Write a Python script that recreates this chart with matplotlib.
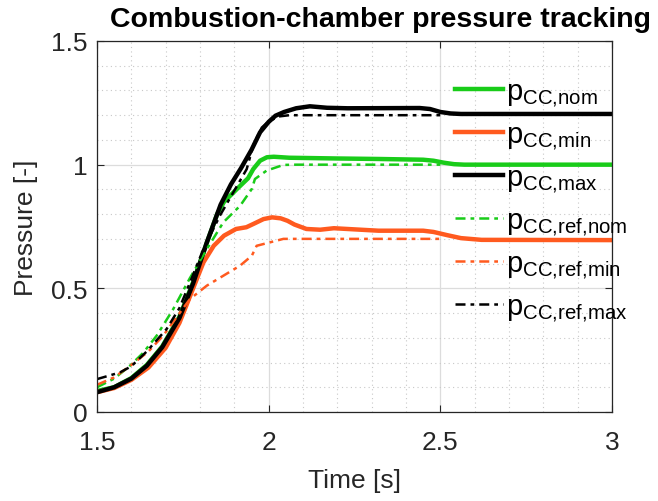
import numpy as np
import matplotlib
matplotlib.use("Agg")
import matplotlib.pyplot as plt
from matplotlib.ticker import MultipleLocator

plt.rcParams['font.family'] = ['Liberation Sans', 'DejaVu Sans']
plt.rcParams['mathtext.fontset'] = 'custom'
plt.rcParams['mathtext.rm'] = 'Liberation Sans'
plt.rcParams['mathtext.it'] = 'Liberation Sans'
plt.rcParams['mathtext.default'] = 'regular'

# measured pressures (solid)
t_max = [1.50, 1.55, 1.60, 1.645, 1.69, 1.74, 1.78, 1.82, 1.86, 1.89, 1.92, 1.95, 1.975, 2.00,
         2.02, 2.045, 2.08, 2.12, 2.17, 2.23, 2.44, 2.47, 2.50, 2.53, 2.56, 3.00]
p_max = [0.08, 0.10, 0.135, 0.187, 0.262, 0.38, 0.52, 0.686, 0.838, 0.92, 0.987, 1.06, 1.131, 1.173,
         1.198, 1.213, 1.228, 1.236, 1.230, 1.228, 1.229, 1.225, 1.213, 1.207, 1.205, 1.205]

t_nom = [1.50, 1.55, 1.60, 1.645, 1.69, 1.74, 1.78, 1.82, 1.85, 1.87, 1.91, 1.94, 1.955, 1.975,
         1.995, 2.015, 2.06, 2.20, 2.32, 2.45, 2.48, 2.51, 2.54, 2.57, 3.00]
p_nom = [0.085, 0.10, 0.137, 0.19, 0.265, 0.385, 0.525, 0.685, 0.80, 0.85, 0.905, 0.945, 0.982, 1.016,
         1.030, 1.032, 1.028, 1.025, 1.023, 1.020, 1.016, 1.008, 1.002, 1.0, 1.0]

t_min = [1.50, 1.55, 1.60, 1.65, 1.70, 1.74, 1.78, 1.81, 1.84, 1.87, 1.905, 1.935, 1.955, 1.985,
         2.01, 2.035, 2.055, 2.075, 2.11, 2.15, 2.19, 2.32, 2.45, 2.48, 2.52, 2.56, 2.62, 3.00]
p_min = [0.08, 0.097, 0.13, 0.18, 0.26, 0.36, 0.50, 0.605, 0.672, 0.713, 0.740, 0.747, 0.760, 0.780,
         0.787, 0.783, 0.773, 0.758, 0.740, 0.737, 0.743, 0.733, 0.733, 0.728, 0.715, 0.703, 0.696, 0.695]

# reference pressures (dash-dot)
t_ref_nom = [1.50, 1.55, 1.596, 1.635, 1.674, 1.722, 1.77, 1.82, 1.868, 1.917, 1.951, 1.96, 1.994, 2.043,
             2.08, 2.50]
p_ref_nom = [0.10, 0.135, 0.187, 0.24, 0.309, 0.416, 0.54, 0.659, 0.767, 0.834, 0.902, 0.942, 0.976, 0.999,
             1.0, 1.0]

t_ref_min = [1.50, 1.55, 1.60, 1.65, 1.693, 1.73, 1.771, 1.82, 1.868, 1.917, 1.951, 1.965, 2.004, 2.043,
             2.07, 2.50]
p_ref_min = [0.11, 0.14, 0.19, 0.245, 0.309, 0.38, 0.457, 0.511, 0.551, 0.592, 0.632, 0.672, 0.686, 0.70,
             0.70, 0.70]

t_ref_max = [1.50, 1.53, 1.567, 1.60, 1.645, 1.703, 1.74, 1.771, 1.81, 1.858, 1.897, 1.936, 1.955, 1.962,
             1.98, 2.00, 2.03, 2.06, 2.50]
p_ref_max = [0.133, 0.145, 0.16, 0.185, 0.245, 0.336, 0.42, 0.524, 0.659, 0.794, 0.888, 0.982, 1.077, 1.10,
             1.15, 1.175, 1.195, 1.20, 1.20]

green = '#19cc19'
orange = '#ff5a1f'
dashdot = (0, (4, 2, 1.5, 2))

fig = plt.figure(figsize=(6.58, 5.02), dpi=100)
ax = fig.add_axes([97/658, 1 - 413/502, 515/658, 371/502])

ax.plot(t_nom, p_nom, color=green, lw=3.2, label=r'p$_\text{CC,nom}$')
ax.plot(t_min, p_min, color=orange, lw=3.2, label=r'p$_\text{CC,min}$')
ax.plot(t_max, p_max, color='black', lw=3.2, label=r'p$_\text{CC,max}$')
ax.plot(t_ref_nom, p_ref_nom, color=green, lw=1.8, ls=dashdot, label=r'p$_\text{CC,ref,nom}$')
ax.plot(t_ref_min, p_ref_min, color=orange, lw=1.8, ls=dashdot, label=r'p$_\text{CC,ref,min}$')
ax.plot(t_ref_max, p_ref_max, color='black', lw=1.8, ls=dashdot, label=r'p$_\text{CC,ref,max}$')

ax.set_xlim(1.5, 3)
ax.set_ylim(0, 1.5)
ax.xaxis.set_major_locator(MultipleLocator(0.5))
ax.yaxis.set_major_locator(MultipleLocator(0.5))
ax.xaxis.set_minor_locator(MultipleLocator(0.1))
ax.yaxis.set_minor_locator(MultipleLocator(0.1))
ax.xaxis.set_major_formatter(plt.FuncFormatter(lambda v, p: f'{v:g}'))
ax.yaxis.set_major_formatter(plt.FuncFormatter(lambda v, p: f'{v:g}'))

ax.grid(which='major', color='#dcdcdc', lw=0.9, ls='-')
ax.grid(which='minor', color='#c8c8c8', lw=0.8, ls=(0, (1, 3)))
ax.set_axisbelow(True)

ax.tick_params(which='both', direction='in', top=True, right=True, colors='#262626',
               labelsize=19, length=5)
ax.tick_params(axis='x', pad=13)
ax.tick_params(axis='y', pad=7)
ax.tick_params(which='minor', length=0)
for s in ax.spines.values():
    s.set_color('#262626')
    s.set_linewidth(0.9)

ax.set_xlabel('Time [s]', fontsize=19, color='#262626', labelpad=10)
ax.set_ylabel('Pressure [-]', fontsize=19, color='#262626', labelpad=9)
ax.set_title('Combustion-chamber pressure tracking', fontsize=20.5, fontweight='bold',
             x=0.55, y=1.0, pad=11)

ax.legend(loc='upper left', bbox_to_anchor=(440/658, 1 - 64/502), bbox_transform=fig.transFigure,
          frameon=False, fontsize=21, handlelength=1.65, handletextpad=0.1,
          labelspacing=0.4, borderpad=0)

fig.savefig('out.png', dpi=100)
